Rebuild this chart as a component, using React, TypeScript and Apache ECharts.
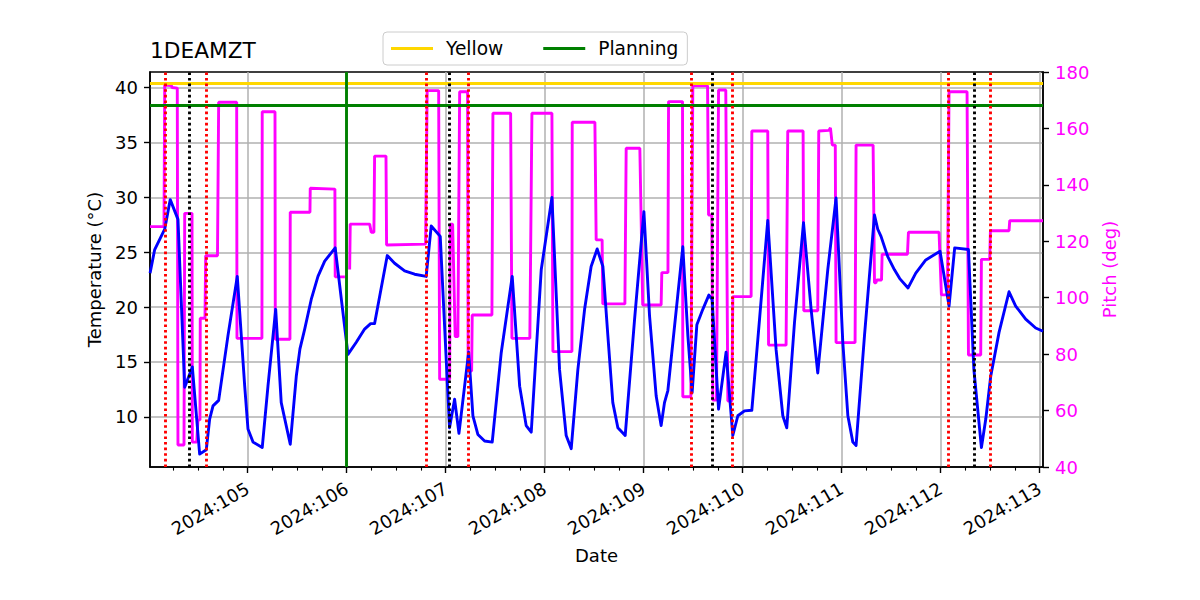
import React, { useEffect, useRef } from "react";
import * as echarts from "echarts";

const FONT = "DejaVu Sans";
const X_MIN = 104.0135;
const X_MAX = 113.033;
const T_MIN = 5.43;
const T_MAX = 41.43;

const dayTicks = [105, 106, 107, 108, 109, 110, 111, 112, 113];
const tempTicks = [10, 15, 20, 25, 30, 35, 40];

const YELLOW_LIMIT = 40.4;
const PLAN_LIMIT = 38.4;
const PLAN_TIME = 106.0;
const redTimes = [104.168, 104.582, 106.8, 107.227, 109.479, 109.893, 112.084, 112.498];
const blackTimes = [104.41, 107.043, 109.691, 112.336];

const tempTimes = [
  104.014, 104.061, 104.162, 104.218, 104.296, 104.364, 104.441, 104.515, 104.582, 104.616,
  104.65, 104.707, 104.801, 104.895, 104.97, 105.003, 105.054, 105.147, 105.205, 105.283,
  105.339, 105.43, 105.491, 105.528, 105.576, 105.642, 105.71, 105.778, 105.884, 106.013,
  106.097, 106.181, 106.242, 106.282, 106.41, 106.484, 106.585, 106.686, 106.803, 106.854,
  106.945, 107.039, 107.09, 107.134, 107.232, 107.275, 107.325, 107.393, 107.47, 107.561,
  107.672, 107.747, 107.813, 107.864, 107.965, 108.073, 108.15, 108.217, 108.268, 108.335,
  108.403, 108.469, 108.53, 108.588, 108.638, 108.688, 108.739, 108.813, 108.908, 109.002,
  109.059, 109.126, 109.176, 109.21, 109.244, 109.395, 109.446, 109.489, 109.537, 109.597,
  109.658, 109.691, 109.756, 109.832, 109.9, 109.951, 110.018, 110.092, 110.17, 110.253,
  110.337, 110.405, 110.445, 110.523, 110.614, 110.691, 110.758, 110.859, 110.943, 111.011,
  111.062, 111.112, 111.145, 111.23, 111.331, 111.364, 111.397, 111.465, 111.533, 111.586,
  111.67, 111.748, 111.849, 111.993, 112.084, 112.141, 112.28, 112.335, 112.411, 112.455,
  112.505, 112.589, 112.69, 112.757, 112.858, 112.959, 113.033,
];
const tempValues = [
  23.1, 25.25, 27.1, 29.8, 28.0, 12.7, 14.55, 6.6, 7.0, 9.8,
  11.0, 11.5, 17.4, 22.8, 12.8, 8.9, 7.7, 7.2, 12.8, 19.8,
  11.3, 7.5, 13.7, 16.2, 18.0, 20.7, 22.8, 24.2, 25.4, 15.7,
  16.8, 18.0, 18.5, 18.5, 24.7, 24.0, 23.3, 23.0, 22.8, 27.4,
  26.45, 9.0, 11.6, 8.5, 15.9, 10.1, 8.4, 7.8, 7.7, 15.85,
  22.8, 12.8, 9.2, 8.6, 23.4, 30.0, 14.3, 8.3, 7.1, 14.3,
  19.8, 23.7, 25.3, 23.7, 17.4, 11.3, 9.0, 8.3, 18.9, 28.7,
  19.2, 11.9, 9.2, 11.3, 12.4, 25.5, 17.4, 12.2, 18.4, 19.8,
  21.1, 20.7, 10.7, 15.9, 8.3, 10.1, 10.55, 10.6, 18.9, 27.9,
  16.15, 10.1, 9.0, 18.6, 27.7, 19.8, 14.0, 23.4, 29.95, 16.8,
  10.1, 7.7, 7.4, 17.4, 28.4, 27.1, 26.45, 24.6, 23.4, 22.6,
  21.75, 23.1, 24.3, 25.1, 20.1, 25.4, 25.25, 14.3, 7.2, 9.8,
  13.7, 17.7, 21.4, 20.1, 18.9, 18.1, 17.8,
];

const pitchTimes = [
  104.0135, 104.155, 104.162, 104.229, 104.236, 104.289, 104.296, 104.357, 104.364, 104.438,
  104.441, 104.485, 104.498, 104.518, 104.521, 104.569, 104.576, 104.695, 104.707, 104.889,
  104.892, 105.144, 105.147, 105.276, 105.279, 105.427, 105.43, 105.629, 105.632, 105.881,
  105.884, 105.982, 106.006, 106.03, 106.036, 106.232, 106.248, 106.275, 106.282, 106.397,
  106.403, 106.797, 106.813, 106.929, 106.939, 107.04, 107.046, 107.07, 107.096, 107.123,
  107.141, 107.221, 107.227, 107.262, 107.268, 107.467, 107.477, 107.656, 107.669, 107.85,
  107.871, 108.073, 108.083, 108.275, 108.278, 108.507, 108.52, 108.58, 108.587, 108.81,
  108.823, 108.961, 108.99, 109.176, 109.183, 109.245, 109.251, 109.392, 109.395, 109.476,
  109.496, 109.645, 109.655, 109.688, 109.698, 109.735, 109.756, 109.829, 109.85, 109.89,
  109.9, 110.085, 110.092, 110.253, 110.261, 110.438, 110.455, 110.61, 110.617, 110.758,
  110.768, 110.87, 110.886, 110.905, 110.935, 110.943, 111.135, 111.145, 111.317, 111.331,
  111.345, 111.354, 111.402, 111.408, 111.664, 111.674, 111.983, 112.007, 112.068, 112.084,
  112.266, 112.28, 112.404, 112.411, 112.495, 112.502, 112.69, 112.697, 113.033,
];
const pitchValues = [
  125.2, 125.2, 175.4, 175.2, 174.5, 174.3, 47.8, 47.8, 129.9, 129.9,
  48.8, 48.8, 56.7, 56.7, 92.7, 92.7, 114.9, 114.9, 169.3, 169.3,
  85.6, 85.6, 165.9, 165.9, 85.3, 85.3, 130.3, 130.3, 138.8, 138.5,
  107.4, 107.4, null, 110.0, 126.1, 126.1, 123.2, 123.2, 150.2, 150.2,
  118.7, 119.0, 173.4, 173.4, 71.1, 71.1, 126.1, 126.1, 86.2, 86.2,
  173.0, 173.0, 74.0, 74.0, 93.9, 93.9, 165.4, 165.4, 85.6, 85.6,
  165.4, 165.4, 80.9, 80.9, 162.2, 162.2, 120.5, 120.5, 97.8, 97.8,
  153.0, 153.0, 97.4, 97.4, 108.9, 108.9, 169.5, 169.5, 64.9, 64.9,
  175.1, 175.1, 129.3, 129.3, 63.7, 63.7, 173.6, 173.6, 63.4, 63.4,
  100.4, 100.4, 159.1, 159.1, 83.2, 83.2, 159.1, 159.1, 95.4, 95.4,
  159.1, 159.3, 160.2, 154.1, 154.1, 84.1, 84.1, 154.1, 154.1, 105.3,
  105.3, 106.3, 106.3, 115.4, 115.4, 123.2, 123.2, 101.0, 101.0, 173.0,
  173.0, 79.7, 79.7, 113.6, 113.6, 123.75, 123.75, 127.3, 127.3,
];

const minorTicks: number[] = [];
[104, ...dayTicks].forEach((d) => {
  [0.25, 0.5, 0.75].forEach((q) => {
    if (d + q < X_MAX) minorTicks.push(d + q);
  });
});

const tempData = tempTimes.map((t, i) => [t, tempValues[i]]);
const pitchData = pitchTimes.map((t, i) => [t, pitchValues[i]]);

const baseText = { fontFamily: FONT, color: "#000", fontSize: 18 };
const dotted = [2.6, 3];
const LW = 2.9;

function markLineOf(data: any[], color: string, type: any) {
  return {
    silent: true,
    symbol: ["none", "none"],
    label: { show: false },
    emphasis: { disabled: true },
    animation: false,
    lineStyle: { color, width: LW, type, cap: "butt" },
    data,
  };
}

export default function App() {
  const ref = useRef<HTMLDivElement>(null);
  useEffect(() => {
    if (!ref.current) return;
    const chart = echarts.init(ref.current, undefined, { renderer: "svg" });
    chart.setOption({
      animation: false,
      backgroundColor: "#fff",
      title: {
        text: "1DEAMZT",
        left: 150,
        top: 39,
        padding: 0,
        textStyle: { fontFamily: FONT, fontSize: 21.7, fontWeight: "normal", color: "#000" },
      },
      legend: {
        left: 383,
        top: 32,
        padding: [7, 9, 7, 8],
        itemWidth: 42,
        itemHeight: 3,
        itemGap: 40,
        icon: "rect",
        borderColor: "#cccccc",
        borderWidth: 1,
        borderRadius: 4,
        backgroundColor: "rgba(255,255,255,0.8)",
        textStyle: { ...baseText, fontSize: 18.6, padding: [0, 0, 0, 8] },
        data: ["Yellow", "Planning"],
      },
      grid: {
        left: 150,
        right: 157,
        top: 72,
        bottom: 133,
        show: true,
        borderColor: "#000",
        borderWidth: 1.5,
      },
      xAxis: [
        {
          type: "value",
          min: X_MIN,
          max: X_MAX,
          position: "bottom",
          axisLine: { show: true, lineStyle: { color: "#000", width: 1.5 } },
          axisTick: { show: true, length: 6, lineStyle: { color: "#000", width: 1.4 }, customValues: dayTicks },
          axisLabel: {
            customValues: dayTicks,
            rotate: 30,
            margin: 20,
            formatter: (v: number) => "2024:" + Math.round(v),
            ...baseText,
          },
          splitLine: { show: true, lineStyle: { color: "#b0b0b0", width: 1.5 } },
          name: "Date",
          nameLocation: "middle",
          nameGap: 79,
          nameTextStyle: baseText,
        },
        {
          type: "value",
          min: X_MIN,
          max: X_MAX,
          position: "bottom",
          axisLine: { show: false },
          axisTick: { show: true, length: 3.6, lineStyle: { color: "#000", width: 1.1 }, customValues: minorTicks },
          axisLabel: { show: false, customValues: minorTicks },
          splitLine: { show: false },
        },
      ],
      yAxis: [
        {
          type: "value",
          min: T_MIN,
          max: T_MAX,
          position: "left",
          axisLine: { show: true, lineStyle: { color: "#000", width: 1.5 } },
          axisTick: { show: true, length: 6, lineStyle: { color: "#000", width: 1.4 }, customValues: tempTicks },
          axisLabel: { customValues: tempTicks, margin: 12, ...baseText },
          splitLine: { show: true, lineStyle: { color: "#b0b0b0", width: 1.5 } },
          name: "Temperature (°C)",
          nameLocation: "middle",
          nameRotate: 90,
          nameGap: 47,
          nameTextStyle: baseText,
        },
        {
          type: "value",
          min: 40,
          max: 180,
          interval: 20,
          position: "right",
          axisLine: { show: true, lineStyle: { color: "#000", width: 1.5 } },
          axisTick: { show: true, length: 6, lineStyle: { color: "#000", width: 1.4 } },
          axisLabel: { margin: 12, ...baseText, color: "#ff00ff" },
          splitLine: { show: false },
          name: "Pitch (deg)",
          nameLocation: "middle",
          nameRotate: 90,
          nameGap: 51,
          nameTextStyle: { ...baseText, color: "#ff00ff" },
        },
      ],
      series: [
        {
          name: "Pitch",
          type: "line",
          xAxisIndex: 0,
          yAxisIndex: 1,
          data: pitchData,
          showSymbol: false,
          symbol: "none",
          connectNulls: false,
          lineStyle: { color: "#ff00ff", width: LW },
          itemStyle: { color: "#ff00ff" },
          z: 2,
          silent: true,
        },
        {
          name: "1DEAMZT",
          type: "line",
          xAxisIndex: 0,
          yAxisIndex: 0,
          data: tempData,
          showSymbol: false,
          symbol: "none",
          lineStyle: { color: "#0000ff", width: LW, join: "round" },
          itemStyle: { color: "#0000ff" },
          z: 3,
          silent: true,
        },
        {
          name: "Yellow",
          type: "line",
          xAxisIndex: 0,
          yAxisIndex: 0,
          data: [],
          lineStyle: { color: "#FFD700", width: LW },
          itemStyle: { color: "#FFD700" },
          z: 4,
          markLine: markLineOf([{ yAxis: YELLOW_LIMIT }], "#FFD700", "solid"),
        },
        {
          name: "Planning",
          type: "line",
          xAxisIndex: 0,
          yAxisIndex: 0,
          data: [],
          lineStyle: { color: "#008000", width: LW },
          itemStyle: { color: "#008000" },
          z: 4,
          markLine: markLineOf([{ yAxis: PLAN_LIMIT }, { xAxis: PLAN_TIME }], "#008000", "solid"),
        },
        {
          name: "events-red",
          type: "line",
          xAxisIndex: 0,
          yAxisIndex: 0,
          data: [],
          z: 5,
          markLine: markLineOf(redTimes.map((t) => ({ xAxis: t })), "#ff0000", dotted),
        },
        {
          name: "events-black",
          type: "line",
          xAxisIndex: 0,
          yAxisIndex: 0,
          data: [],
          z: 5,
          markLine: markLineOf(blackTimes.map((t) => ({ xAxis: t })), "#000000", dotted),
        },
      ],
    });
    return () => chart.dispose();
  }, []);
  return (
    <div
      ref={ref}
      style={{ position: "absolute", left: 0, top: 0, width: 1200, height: 600 }}
    />
  );
}
